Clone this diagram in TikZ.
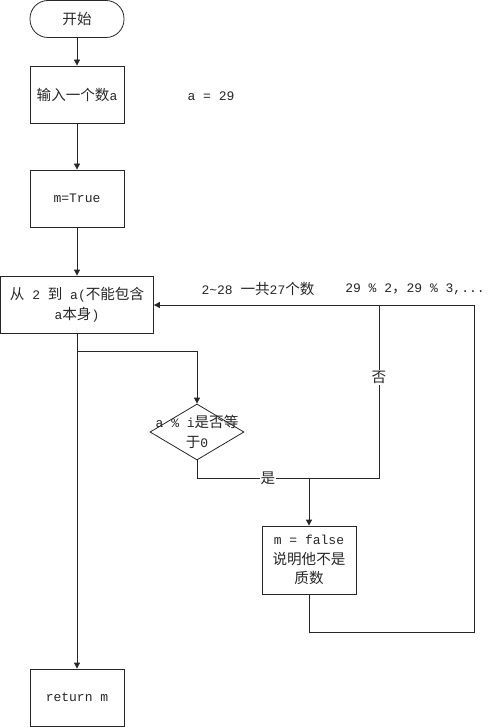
\documentclass[tikz,border=0pt]{standalone}
\usepackage{fontspec}
\setmainfont{Liberation Mono}
\newfontfamily\cj{Noto Sans CJK SC}[Scale=1.12]
\usetikzlibrary{arrows.meta,shapes.geometric}
\begin{document}
\begin{tikzpicture}[x=1pt,y=-1pt,
  every node/.style={font=\fontsize{13}{19.5}\selectfont, text=black!85},
  line/.style={draw=black!85, line width=0.8pt},
  arr/.style={line, -{Triangle[length=6pt,width=6pt]}},
  proc/.style={draw=black!85, line width=0.8pt, minimum width=94pt, minimum height=57pt, inner sep=0pt, align=center},
  lbl/.style={fill=white, inner sep=1pt}]
\useasboundingbox (0,0) rectangle (490,727);
\node[proc, minimum height=37pt, rounded corners=18pt] (start) at (77,19) {\cj 开始};
\node[proc] (b2) at (77,94.5) {{\cj 输入一个数}a};
\node at (211,96) {a = 29};
\node[proc] (b3) at (77,198.5) {m=True};
\node[proc, minimum width=153pt] (b4) at (77,304.5) {{\cj 从} 2 {\cj 到} a({\cj 不能包含}\\a{\cj 本身})};
\node[draw=black!85, line width=0.8pt, diamond, minimum width=94pt, minimum height=56pt, inner sep=0pt] (dia) at (197,432) {};
\node[align=center] (diat) at (197,432) {a \% i{\cj 是否等}\\{\cj 于}0};
\node[proc, minimum height=68pt] (b5) at (309,560) {m = false\\{\cj 说明他不是}\\{\cj 质数}};
\node[proc, minimum height=57pt] (ret) at (77,697.5) {return m};
\node (t1) at (258,289) {2\textasciitilde28 {\cj 一共}27{\cj 个数}};
\node (t2) at (415,289) {29 \% 2{\cj ，}29 \% 3,...};
\coordinate (br) at (77,351);
\coordinate (br2) at (197,351);
\coordinate (d1) at (197,478);
\coordinate (j1) at (309,478);
\coordinate (n1) at (379,478);
\coordinate (n2) at (379,305);
\coordinate (l1) at (309,632);
\coordinate (l2) at (474,632);
\coordinate (l3) at (474,305);
\draw[arr] (start) -- (b2);
\draw[arr] (b2) -- (b3);
\draw[arr] (b3) -- (b4);
\draw[arr] (b4) -- (ret);
\draw[arr] (br) -- (br2) -- (dia.north);
\draw[arr] (dia.south) -- (d1) -- node[lbl, pos=0.39] {\cj 是} (n1) -- node[lbl, pos=0.58] {\cj 否} (n2) -- (b4.east |- n2);
\draw[arr] (j1) -- (b5.north);
\draw[line] (b5.south) -- (l1) -- (l2) -- (l3) -- (n2);
\end{tikzpicture}
\end{document}
